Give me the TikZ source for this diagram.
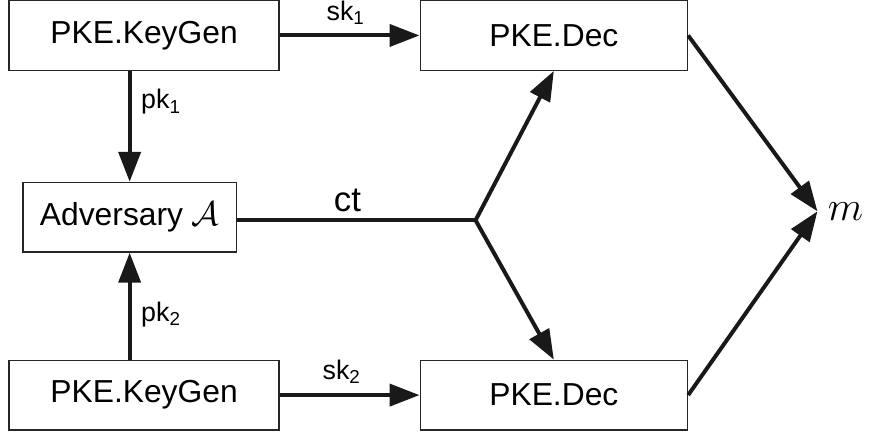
\documentclass[tikz,border=0pt]{standalone}
\usepackage{fontspec}
\setmainfont{Liberation Sans}
\setsansfont{Liberation Sans}
\usetikzlibrary{%
  arrows.meta,%
  positioning}

\begin{document}
\begin{tikzpicture}
  [on grid,>={Triangle[length=15pt,width=11pt]},
   box/.style={rectangle,draw=black!85,line width=0.7pt,minimum height=35pt,
     font=\fontsize{16}{19}\selectfont},
   gen box/.style={box,minimum width=136pt},
   dec box/.style={box,minimum width=134.5pt},
   flow/.style={line width=2pt,draw=black!90},
   key/.style={font=\fontsize{13.5}{16}\selectfont}]

  % boxes
  \node [gen box] (gen1)                           {PKE.KeyGen};
  \node [dec box] (dec1) [right=206.25pt of gen1]  {PKE.Dec};
  \node [box,minimum width=107.5pt]
                  (adv)  [below=91.5pt of gen1,xshift=-7.25pt] {Adversary $\mathcal{A}$};
  \node [gen box] (gen2) [below=181pt of gen1]     {PKE.KeyGen};
  \node [dec box] (dec2) [right=206.25pt of gen2]  {PKE.Dec};

  \coordinate [right=120pt of adv.east,yshift=-1.5pt] (split);
  \node [inner sep=5pt,font=\fontsize{21}{24}\selectfont] (m) at (353pt,-88.5pt) {$m$};

  \useasboundingbox (-72.5pt,17.5pt) rectangle (364pt,-201.5pt);

  % keys
  \draw [flow,->] (gen1) -- node [key,anchor=base,yshift=7.5pt,xshift=-2pt] {sk$_\mathsf{1}$} (dec1);
  \draw [flow,->] (gen2) -- node [key,anchor=base,yshift=8pt,xshift=-4pt] {sk$_\mathsf{2}$} (dec2);
  \draw [flow,->] (adv.north |- gen1.south) -- node [key,right=1.5pt,anchor=west,pos=0.28] {pk$_\mathsf{1}$} (adv.north);
  \draw [flow,->] (adv.north |- gen2.north) -- node [key,right=1.5pt,anchor=west,pos=0.42] {pk$_\mathsf{2}$} (adv.south);

  % ciphertext
  \draw [flow] (adv.east |- split) -- node [anchor=base,yshift=4.5pt,xshift=-4.5pt,
    font=\fontsize{17.5}{20}\selectfont] {ct} (split);
  \draw [flow,->] (split) -- (dec1.south);
  \draw [flow,->] (split) -- (dec2.north);

  % output
  \draw [flow,->] (dec1.east) -- (m.west);
  \draw [flow,->] (dec2.east) -- (m.west);

\end{tikzpicture}
\end{document}
